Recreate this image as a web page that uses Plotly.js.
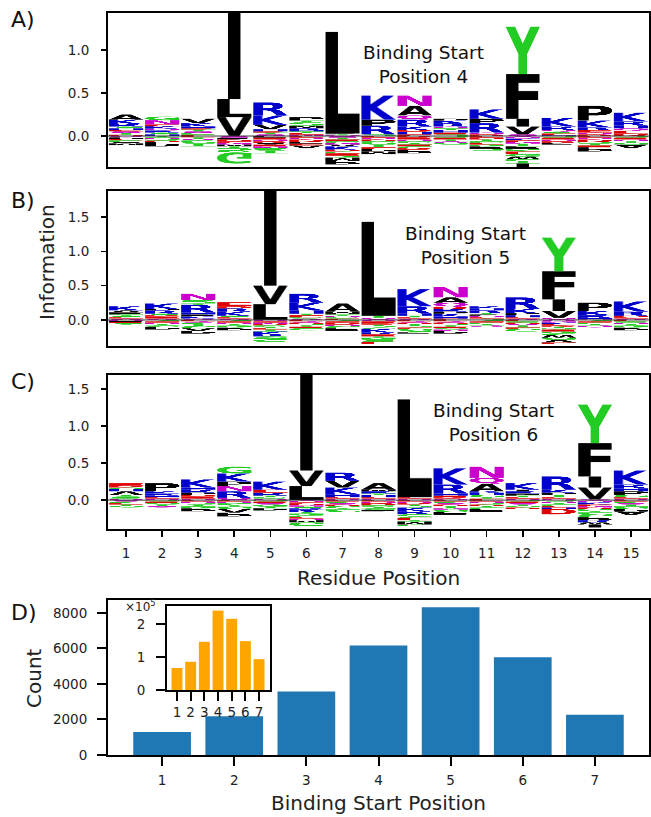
<!DOCTYPE html>
<html><head><meta charset="utf-8">
<script src="https://cdn.plot.ly/plotly-3.0.1.min.js"></script>
<style>body{margin:0;background:#fff}#chart{width:651px;height:817px}</style>
</head><body><div id="chart"></div>
<script>
// ---------------- DATA ----------------
const residuePositions = [1,2,3,4,5,6,7,8,9,10,11,12,13,14,15];

// Sequence logos: each string = letters with information height, bottom -> top (positive)
// and top -> bottom (negative, drawn flipped below zero)
const logoA_pos = [
 "D.015 T.02 Q.02 E.015 H.02 S.02 R.03 K.05 A.06",
 "H.02 S.02 R.025 Q.02 K.03 E.02 N.05 G.04",
 "E.015 S.02 Q.02 T.02 D.015 H.02 K.04 V.05",
 "V.22 L.21 I1.2",
 "Q.02 T.02 D.015 H.025 V.05 K.11 R.15",
 "N.015 E.02 T.02 H.015 R.02 M.03 S.04 T.02 P.04",
 "Q.01 T.01 P.01 L1.18",
 "S.02 R.10 P.07 K.28",
 "E.02 H.03 D.02 K.04 R.08 Q.05 A.11 N.12",
 "S.02 E.02 H.03 T.02 Q.02 R.04 K.03 P.02",
 "D.02 Q.02 R.11 P.05 K.11",
 "Q.02 V.09 I.09 F.52 Y.55",
 "H.01 E.02 S.02 Q.02 R.04 K.10",
 "D.02 Q.02 E.03 R.03 K.08 P.17",
 "D.03 E.03 Q.03 H.03 R.05 K.10"
];
const logoA_neg = [
 "Q.015 P.02 E.015 S.02 A.015 M.02",
 "T.02 Q.015 S.02 D.015 P.05",
 "E.015 T.02 Q.015 S.02 G.02 T.03",
 "Q.02 P.02 D.02 E.02 N.02 M.02 T.02 S.05 G.13",
 "P.02 E.02 Q.02 D.02 A.02 E.02 N.02 S.03 T.03",
 "E.02 Q.02 D.03 P.02 E.02 A.03",
 "Q.02 T.02 E.02 S.02 N.02 A.02 K.04 D.02 G.02 E.03 S.02 M.04 P.04",
 "E.02 Q.02 D.02 S.02 G.02 T.03 E.02 P.03 M.03",
 "D.02 E.02 Q.02 S.02 T.02 E.02 G.02 D.02 P.04",
 "S.02 E.02 T.02 Q.02 G.02",
 "E.02 D.02 T.02 S.02 E.02 G.02 P.03 S.02",
 "Q.03 K.02 E.02 N.02 T.03 P.03 S.03 E.03 G.03 W.03 S.02 T.03 I.04",
 "S.02 E.02 Q.02 D.02 P.02",
 "E.02 Q.02 D.03 S.02 T.02 E.02 P.05",
 "S.02 E.02 Q.02 T.02 G.02 A.04"
];
const logoB_pos = [
 "Q.02 E.02 S.02 T.02 P.03 A.03 K.06",
 "Q.02 E.03 D.02 S.02 R.05 P.02 K.08",
 "Q.02 K.03 P.03 H.03 R.11 T.02 S.05 N.09",
 "Q.02 E.02 S.02 K.06 R.05 D.03 E.06",
 "L.23 V.27 I1.5",
 "Q.02 S.02 E.03 T.02 H.05 K.11 R.13",
 "E.02 S.02 Q.02 T.02 P.02 M.02 A.12",
 "Q.03 T.03 L1.37",
 "Q.02 E.02 T.02 H.03 R.11 K.25",
 "E.02 H.03 K.04 P.03 R.04 D.03 Q.06 A.08 N.15",
 "S.02 E.02 Q.02 P.02 T.02 R.04 H.03 K.03",
 "Q.02 E.02 H.03 P.03 K.06 R.17",
 "Q.03 V.10 I.17 F.41 Y.49",
 "Q.01 H.02 R.04 K.06 P.12",
 "Q.02 E.02 D.02 R.06 K.15"
];
const logoB_neg = [
 "Q.015 P.015 E.015 S.015 T.01",
 "S.02 E.02 Q.02 T.02 G.02 P.04",
 "E.02 Q.02 S.02 T.03 G.03 A.04 P.04",
 "S.02 E.02 Q.02 T.02 G.03 P.04",
 "Q.02 E.02 N.02 D.02 S.02 T.02 E.02 T.03 K.05 R.02 G.02 S.06",
 "E.02 Q.02 D.02 S.02 T.02 E.02 G.03",
 "S.02 E.02 D.03 Q.02 G.03 P.04",
 "Q.02 E.03 D.02 T.02 S.02 G.02 K.05 R.03 E.03 T.02 G.02 S.04 E.03",
 "E.02 Q.02 D.02 T.03 S.02 E.02 G.03 S.02 P.02",
 "E.02 Q.02 D.02 S.02 T.02 E.02 G.02 N.02 P.04",
 "S.02 E.02 G.02 T.02 Q.02",
 "E.02 S.02 D.02 Q.02 T.03 E.02 G.04",
 "Q.02 N.02 K.02 E.02 D.02 T.02 S.02 E.03 G.03 S.02 W.04 G.03 V.04 E.02",
 "S.02 E.02 G.02 T.02 Q.03",
 "E.02 S.02 Q.02 T.02 G.03 P.04"
];
const logoC_pos = [
 "Q.02 S.03 T.02 A.05 H.03 G.02 D.02 E.04",
 "Q.02 E.02 H.02 R.03 K.03 P.11",
 "Q.02 E.03 D.02 P.03 R.04 H.03 K.11",
 "Q.03 R.09 N.07 P.06 K.11 G.09",
 "Q.02 S.02 T.02 R.04 E.04 K.11",
 "L.19 V.21 I1.4",
 "Q.02 E.02 H.04 K.09 V.09 R.11",
 "Q.02 E.02 H.03 T.02 R.03 M.02 A.09",
 "Q.02 E.02 L1.32",
 "Q.02 D.02 E.02 H.03 R.12 K.22",
 "E.02 T.02 G.03 H.03 K.02 A.10 Q.08 N.15",
 "Q.02 E.02 T.02 P.03 R.03 I.02 K.09",
 "Q.02 E.02 T.03 P.03 K.04 R.18",
 "Q.01 V.16 I.15 F.45 Y.52",
 "Q.02 E.02 G.03 P.05 H.04 R.05 K.19"
];
const logoC_neg = [
 "Q.02 S.02 E.02 T.02 G.02",
 "S.02 E.02 G.02 T.02 Q.02",
 "E.02 Q.02 S.02 T.03 G.02 P.04",
 "E.02 Q.02 S.03 T.02 G.03 A.05 P.05",
 "S.02 E.02 Q.02 G.03 T.02 P.03",
 "Q.03 E.02 D.02 N.02 S.02 R.02 K.03 T.02 G.03 C.02 E.02 Q.02 M.03 G.05",
 "E.02 S.02 Q.02 D.02 G.03 T.02 C.03",
 "E.02 Q.02 D.03 S.02 T.02 G.02 P.02",
 "E.02 Q.02 D.02 T.02 S.02 K.05 R.04 G.03 C.02 E.03 T.02 M.04 G.02",
 "E.02 S.02 Q.02 D.02 T.03 N.02 G.03 P.04",
 "E.02 Q.02 S.02 D.02 T.02 G.02 P.04",
 "S.02 E.02 Q.02 T.02 G.02 D.02",
 "S.02 Q.02 T.02 G.02 E.02 H.02 D.07",
 "Q.03 K.03 E.02 N.02 D.02 S.03 T.02 C.03 G.03 P.04 R.03 W.03 I.04",
 "E.02 S.02 Q.02 T.03 G.03 P.03 A.05"
];
const panelStarts = ["4", "5", "6"];

const startPositions = [1,2,3,4,5,6,7];
const startCounts = [1300, 2180, 3580, 6170, 8320, 5500, 2260];
const insetCounts = [67000, 86000, 147000, 242000, 217000, 149000, 94000];

// ---------------- GLYPHS ----------------
const COLORS = {K:'#0000cc',R:'#0000cc',H:'#0000cc',N:'#cc00cc',Q:'#cc00cc',
  G:'#22cc22',S:'#22cc22',T:'#22cc22',Y:'#22cc22',C:'#22cc22',D:'#dd0000',E:'#dd0000'};
const colorOf = c => COLORS[c] || '#000000';
const FONT = 'bold 200px "DejaVu Sans"';
const mCache = {}, uCache = {};
function measure(ch){
  if (mCache[ch]) return mCache[ch];
  const W=420,H=330, cv=document.createElement('canvas'); cv.width=W; cv.height=H;
  const ctx=cv.getContext('2d'); ctx.font=FONT; ctx.fillStyle='#000';
  ctx.fillText(ch,100,250);
  const d=ctx.getImageData(0,0,W,H).data;
  let x0=W,x1=-1,y0=H,y1=-1;
  for(let y=0;y<H;y++) for(let x=0;x<W;x++){ if(d[(y*W+x)*4+3]>110){ if(x<x0)x0=x; if(x>x1)x1=x; if(y<y0)y0=y; if(y>y1)y1=y; } }
  return (mCache[ch]={x0,y0,w:x1-x0+1,h:y1-y0+1});
}
function glyphURL(ch,flip){
  const key=ch+(flip?'f':'u');
  if(uCache[key]) return uCache[key];
  const m=measure(ch), cv=document.createElement('canvas'); cv.width=m.w; cv.height=m.h;
  const ctx=cv.getContext('2d'); ctx.font=FONT; ctx.fillStyle=colorOf(ch);
  if(flip){ ctx.translate(0,m.h); ctx.scale(1,-1); }
  ctx.fillText(ch,100-m.x0,250-m.y0);
  return (uCache[key]=cv.toDataURL('image/png'));
}
const COLW = 0.95;
function letterWidth(ch){ return COLW*Math.min(1, measure(ch).w/measure('E').w); }
function parse(s){ return s.trim().split(/\s+/).map(t=>({c:t[0],h:parseFloat(t.slice(1))})); }

const images=[];
function addLogo(posArr,negArr,xref,yref){
  posArr.forEach((s,i)=>{
    const x=residuePositions[i]; let cum=0;
    parse(s).forEach(g=>{ cum+=g.h; const w=letterWidth(g.c);
      images.push({source:glyphURL(g.c,false),xref,yref,x:x-w/2,y:cum,sizex:w,sizey:g.h,
        xanchor:'left',yanchor:'top',sizing:'stretch',layer:'above'}); });
  });
  negArr.forEach((s,i)=>{
    const x=residuePositions[i]; let cum=0;
    parse(s).forEach(g=>{ const w=letterWidth(g.c);
      images.push({source:glyphURL(g.c,true),xref,yref,x:x-w/2,y:-cum,sizex:w,sizey:g.h,
        xanchor:'left',yanchor:'top',sizing:'stretch',layer:'above'}); cum+=g.h; });
  });
}
addLogo(logoA_pos,logoA_neg,'x','y');
addLogo(logoB_pos,logoB_neg,'x2','y2');
addLogo(logoC_pos,logoC_neg,'x3','y3');

// ---------------- LAYOUT ----------------
const H=817, Wd=651;
const py=(top,bot)=>[1-bot/H,1-top/H];
const XD=[108/Wd,649/Wd];
const tf=()=>({family:'DejaVu Sans',size:13.5,color:'#222'});
const base=()=>({showline:true,mirror:true,linewidth:2,linecolor:'#000',showgrid:false,zeroline:false,
  tickfont:tf(),tickcolor:'#000',fixedrange:true});

function logoY(dom,range,anchor){ return Object.assign(base(),{domain:dom,range:range,anchor:anchor,tickvals:[0,0.5,1,1.5],
  ticktext:['0.0','0.5','1.0','1.5'],ticks:'outside',ticklen:5,tickwidth:1.5,ticklabelstandoff:9}); }
function logoX(anchor,show){ return Object.assign(base(),{domain:XD,anchor:anchor,range:[0.5,15.5],
  tickvals:residuePositions,showticklabels:show,ticks:show?'outside':'',ticklen:6,tickwidth:1.5,ticklabelstandoff:5}); }

const layout={
  width:651,height:817,margin:{l:0,r:0,t:0,b:0,pad:0},paper_bgcolor:'#fff',plot_bgcolor:'#fff',showlegend:false,
  xaxis:logoX('y',false), yaxis:logoY(py(13,167),[-0.36,1.43],'x'),
  xaxis2:logoX('y2',false), yaxis2:logoY(py(191,346),[-0.38,1.88],'x2'),
  xaxis3:logoX('y3',true), yaxis3:logoY(py(375,529),[-0.39,1.69],'x3'),
  xaxis4:Object.assign(base(),{domain:XD,anchor:'y4',range:[0.25,7.75],tickvals:startPositions,
    ticks:'outside',ticklen:9,tickwidth:2,ticklabelstandoff:3}),
  yaxis4:Object.assign(base(),{domain:py(600,755),anchor:'x4',range:[0,8730],tickvals:[0,2000,4000,6000,8000],
    ticks:'outside',ticklen:9,tickwidth:2,ticklabelstandoff:7}),
  xaxis5:Object.assign(base(),{domain:[167/Wd,270/Wd],anchor:'y5',range:[0.27,7.8],tickvals:startPositions,
    ticks:'outside',ticklen:9,tickwidth:2,ticklabelstandoff:0}),
  yaxis5:Object.assign(base(),{domain:py(606,690),anchor:'x5',range:[0,256000],tickvals:[0,100000,200000],
    ticktext:['0','1','2'],ticks:'outside',ticklen:9,tickwidth:2,ticklabelstandoff:8}),
  images:images,
  shapes:['y','y2','y3'].map((ya,i)=>({type:'line',xref:['x','x2','x3'][i]+' domain',yref:ya,x0:0,x1:1,y0:0,y1:0,
    line:{color:'#333',width:1},layer:'above'})),
  annotations:[]
};
const ann=layout.annotations;
const titleFont={family:'DejaVu Sans',size:20,color:'#222'};
const labelFont={family:'DejaVu Sans',size:22,color:'#111'};
const P=(o)=>Object.assign({xref:'paper',yref:'paper',showarrow:false,xanchor:'center',yanchor:'middle'},o);
[['A)',20],['B)',200],['C)',381],['D)',612]].forEach(([t,y])=>ann.push(P({text:t,x:9/Wd,y:1-y/H,xanchor:'left',font:labelFont})));
const bsPos=[[9.25,0.83,'x','y'],[10.4,1.09,'x2','y2'],[11.2,1.05,'x3','y3']];
bsPos.forEach((p,i)=>ann.push({text:'Binding Start<br>Position '+panelStarts[i],xref:p[2],yref:p[3],x:p[0],y:p[1],
  xanchor:'center',yanchor:'middle',showarrow:false,font:{family:'DejaVu Sans',size:18.5,color:'#111'},align:'center'}));
ann.push(P({text:'Information',x:47/Wd,y:1-262/H,textangle:-90,font:titleFont}));
ann.push(P({text:'Residue Position',x:(108+649)/2/Wd,y:1-578/H,font:titleFont}));
ann.push(P({text:'Count',x:34/Wd,y:1-678/H,textangle:-90,font:titleFont}));
ann.push(P({text:'Binding Start Position',x:(108+649)/2/Wd,y:1-803/H,font:titleFont}));
ann.push(P({text:'×10<sup>5</sup>',x:140/Wd,y:1-606/H,font:{family:'DejaVu Sans',size:12,color:'#222'}}));

const hidden=(xa,ya)=>({type:'scatter',x:residuePositions,y:residuePositions.map(()=>0),xaxis:xa,yaxis:ya,
  mode:'markers',marker:{opacity:0},hoverinfo:'skip'});
const data=[hidden('x','y'),hidden('x2','y2'),hidden('x3','y3'),
  {type:'bar',x:startPositions,y:startCounts,xaxis:'x4',yaxis:'y4',width:0.8,marker:{color:'#1f77b4'}},
  {type:'bar',x:startPositions,y:insetCounts,xaxis:'x5',yaxis:'y5',width:0.8,marker:{color:'#ffa500'}}];
Plotly.newPlot('chart',data,layout,{displayModeBar:false,staticPlot:true});
</script></body></html>
